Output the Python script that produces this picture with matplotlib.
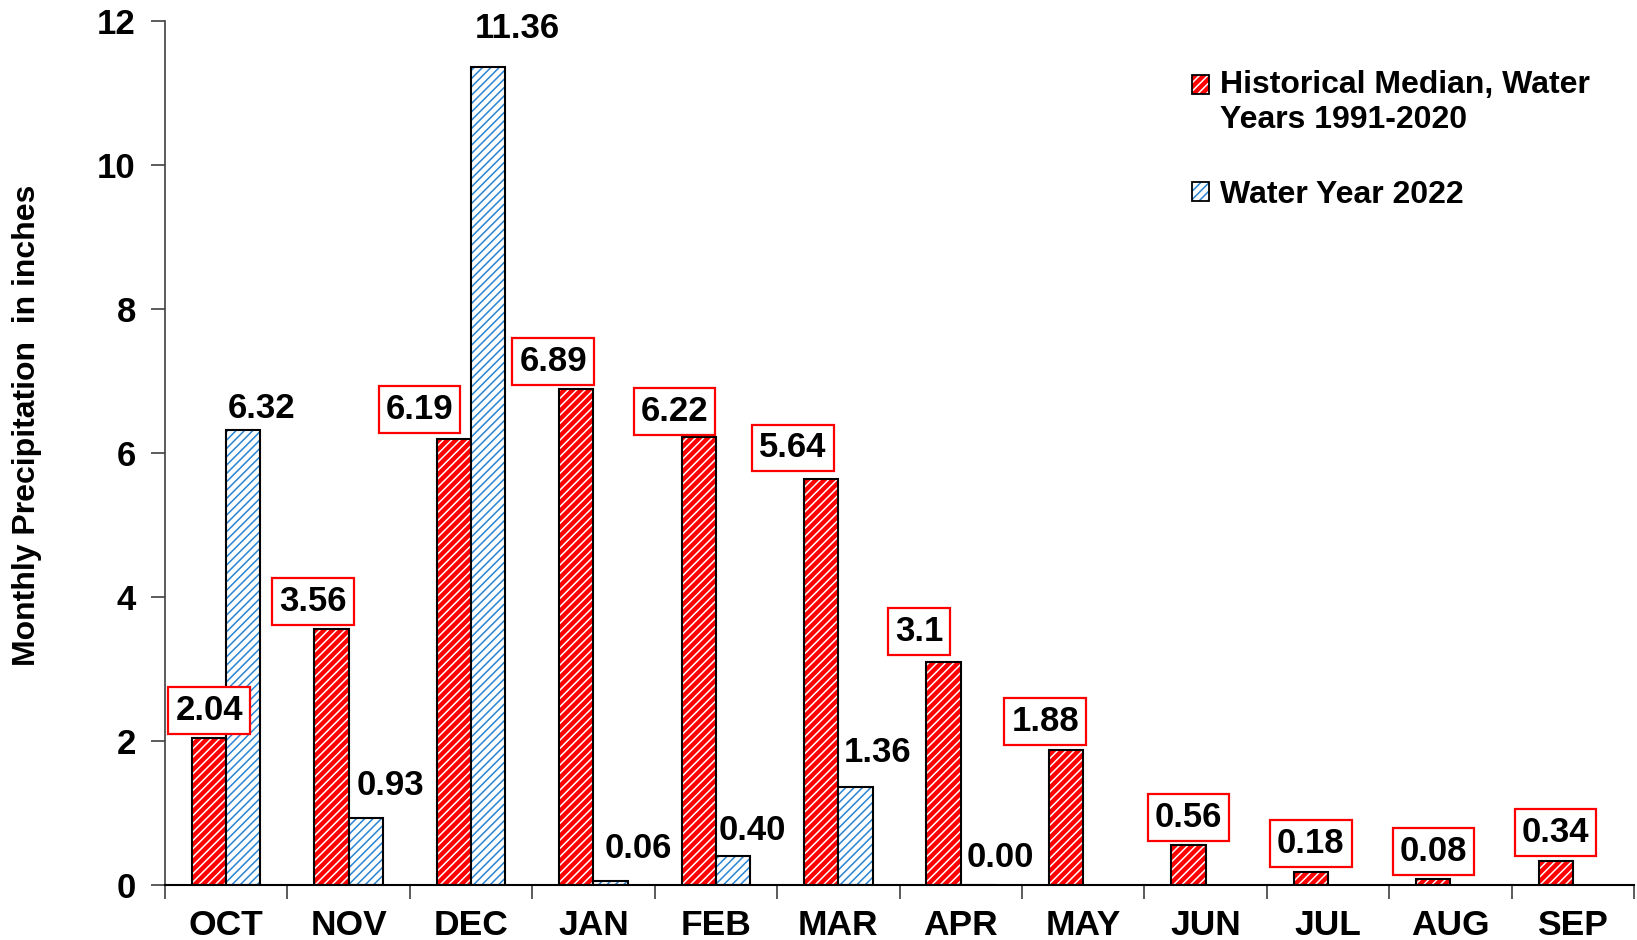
import matplotlib
matplotlib.use("Agg")
import matplotlib.pyplot as plt
from matplotlib.patches import Rectangle
from matplotlib.legend_handler import HandlerBase
import numpy as np

months = ["OCT", "NOV", "DEC", "JAN", "FEB", "MAR", "APR", "MAY", "JUN", "JUL", "AUG", "SEP"]
median_1991_2020 = [2.04, 3.56, 6.19, 6.89, 6.22, 5.64, 3.1, 1.88, 0.56, 0.18, 0.08, 0.34]
median_labels = ["2.04", "3.56", "6.19", "6.89", "6.22", "5.64", "3.1", "1.88", "0.56", "0.18", "0.08", "0.34"]
wy2022 = [6.32, 0.93, 11.36, 0.06, 0.40, 1.36, 0.00]
wy2022_labels = ["6.32", "0.93", "11.36", "0.06", "0.40", "1.36", "0.00"]

# label nudges (category units / inches)
red_dx = [0, -0.15, -0.28, -0.19, -0.2, -0.23, -0.2, -0.17, 0, 0, 0, 0]
red_dy = [0.38, 0.38, 0.42, 0.38, 0.36, 0.43, 0.42, 0.39, 0.38, 0.40, 0.39, 0.39]
blue_dx = [0.15, 0.2, 0.24, 0.23, 0.16, 0.18, 0.18]
blue_dy = [0.30, 0.45, 0.54, 0.45, 0.36, 0.48, 0.38]

plt.rcParams["font.family"] = ["Liberation Sans", "DejaVu Sans"]
plt.rcParams["font.weight"] = "bold"
plt.rcParams["hatch.linewidth"] = 1.1

RED = "#ff0000"
BLUE = "#2a85d4"
HATCH = "////"
w = 0.28


class HatchBox(HandlerBase):
    """square legend key: hatched fill with a black frame, optionally raised"""
    def __init__(self, face, hatchcolor, yshift=0):
        super().__init__()
        self.face, self.hatchcolor, self.yshift = face, hatchcolor, yshift

    def create_artists(self, legend, orig_handle, xdescent, ydescent, width, height, fontsize, trans):
        xy = (-xdescent, -ydescent + self.yshift)
        fill = Rectangle(xy, width, height, facecolor=self.face, edgecolor=self.hatchcolor,
                         hatch=HATCH, linewidth=0, transform=trans)
        frame = Rectangle(xy, width, height, fill=False, edgecolor="black", linewidth=1.3,
                          transform=trans)
        return [fill, frame]


fig = plt.figure(figsize=(16.37, 9.40), dpi=100)
ax = fig.add_axes([0.1008, 0.0585, 0.8974, 0.9192])

x = np.arange(len(months))
xb = np.arange(len(wy2022))

# hatched fills, then black outlines on top
red_bars = ax.bar(x - w / 2, median_1991_2020, w, color=RED, edgecolor="white",
                  hatch=HATCH, linewidth=0)
ax.bar(x - w / 2, median_1991_2020, w, fill=False, edgecolor="black", linewidth=1.5)
blue_bars = ax.bar(xb + w / 2, wy2022, w, color="white", edgecolor=BLUE,
                   hatch=HATCH, linewidth=0)
ax.bar(xb + w / 2, wy2022, w, fill=False, edgecolor="black", linewidth=1.5)

for i, v in enumerate(median_1991_2020):
    ax.text(x[i] - w / 2 + red_dx[i], v + red_dy[i], median_labels[i], ha="center", va="center",
            fontsize=25, fontweight="bold",
            bbox=dict(boxstyle="square,pad=0.2", facecolor="white", edgecolor=RED, linewidth=1.6))
for i, v in enumerate(wy2022):
    ax.text(xb[i] + w / 2 + blue_dx[i], v + blue_dy[i], wy2022_labels[i], ha="center", va="center",
            fontsize=25, fontweight="bold")

ax.set_xlim(-0.5, len(months) - 0.5)
ax.set_ylim(0, 12)
ax.set_yticks(range(0, 13, 2))
ax.set_xticks(x)
ax.set_xticklabels(months)
ax.set_xticks(np.arange(-0.5, len(months) + 0.5, 1), minor=True)
ax.tick_params(axis="x", which="major", length=0, pad=17.5, labelsize=25.5)
ax.tick_params(axis="x", which="minor", length=10, width=1.2, color="#404040")
ax.tick_params(axis="y", length=10, width=1.2, color="#404040", pad=11, labelsize=25)
for lab in ax.get_xticklabels() + ax.get_yticklabels():
    lab.set_fontweight("bold")

for s in ["top", "right"]:
    ax.spines[s].set_visible(False)
ax.spines["left"].set_color("#404040")
ax.spines["left"].set_linewidth(1.2)
ax.spines["bottom"].set_color("black")
ax.spines["bottom"].set_linewidth(1.5)

ax.set_ylabel("Monthly Precipitation  in inches", fontsize=23, fontweight="bold")
ax.yaxis.set_label_coords(-0.0837, 0.532)

fig.legend([red_bars, blue_bars], ["Historical Median, Water\nYears 1991-2020", "Water Year 2022"],
           handler_map={red_bars: HatchBox(RED, "white", yshift=13.5),
                        blue_bars: HatchBox("white", BLUE)},
           loc="upper left", bbox_to_anchor=(0.728, 0.925), frameon=False,
           prop=dict(size=23, weight="bold"), handlelength=0.53, handleheight=0.53,
           handletextpad=0.35, labelspacing=1.41, borderpad=0, borderaxespad=0)

fig.savefig("out.png", dpi=100)
